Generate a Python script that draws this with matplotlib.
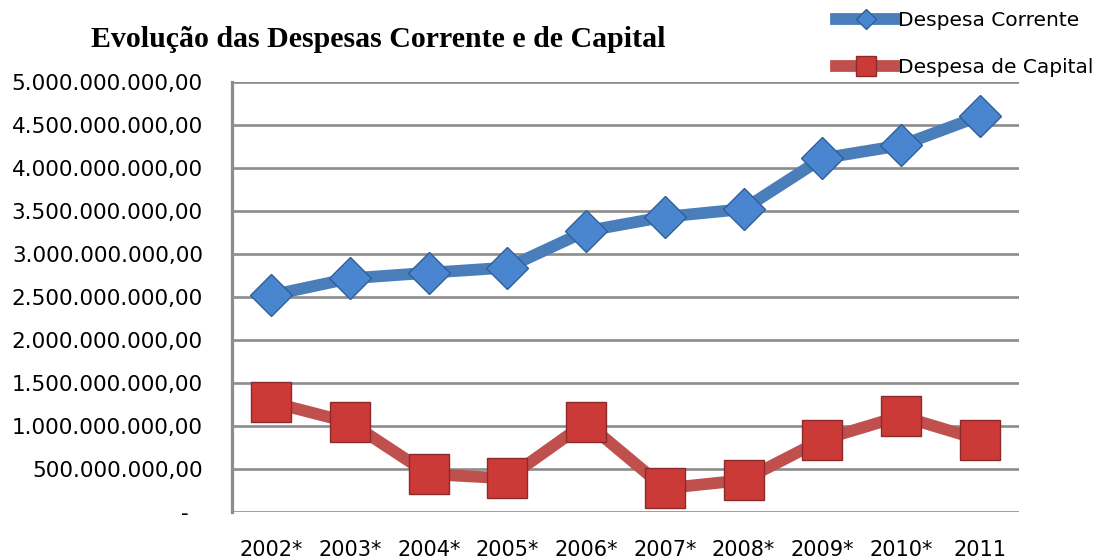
import matplotlib
matplotlib.use("Agg")
import matplotlib.pyplot as plt
from matplotlib.ticker import FuncFormatter

categories = ["2002*", "2003*", "2004*", "2005*", "2006*", "2007*", "2008*", "2009*", "2010*", "2011"]
despesa_corrente = [2.52e9, 2.715e9, 2.78e9, 2.84e9, 3.265e9, 3.43e9, 3.52e9, 4.11e9, 4.26e9, 4.60e9]
despesa_capital = [1.275e9, 1.04e9, 0.44e9, 0.39e9, 1.04e9, 0.275e9, 0.37e9, 0.84e9, 1.115e9, 0.84e9]
yticks = [0, 0.5e9, 1.0e9, 1.5e9, 2.0e9, 2.5e9, 3.0e9, 3.5e9, 4.0e9, 4.5e9, 5.0e9]

fig = plt.figure(figsize=(10.99, 5.59), dpi=100)
ax = fig.add_axes([0.2111, 0.0841, 0.7161, 0.7697])

x = list(range(len(categories)))
ax.plot(x, despesa_corrente, color="#4a7ebb", lw=8.5, marker="D", ms=21,
        markerfacecolor="#4a86d0", markeredgecolor="#2f5f9a", markeredgewidth=1.0,
        label="Despesa Corrente", zorder=3, solid_joinstyle="round")
ax.plot(x, despesa_capital, color="#c0504d", lw=8.5, marker="s", ms=28.5,
        markerfacecolor="#cc3a37", markeredgecolor="#8b2a2a", markeredgewidth=1.0,
        label="Despesa de Capital", zorder=3, solid_joinstyle="round")

ax.set_xlim(-0.5, len(categories) - 0.5)
ax.set_ylim(0, 5e9)
ax.set_yticks(yticks)


def fmt(v, pos):
    if v == 0:
        return "-  "
    s = f"{v:,.2f}"
    return s.replace(",", "X").replace(".", ",").replace("X", ".")


ax.yaxis.set_major_formatter(FuncFormatter(fmt))
ax.set_xticks(x)
ax.set_xticklabels(categories)
ax.tick_params(axis="y", length=0, pad=21, labelsize=15.5)
ax.tick_params(axis="x", length=0, pad=20, labelsize=15)
ax.grid(axis="y", color="#8c8c8c", lw=1.9)
ax.set_axisbelow(True)
for s in ["top", "right", "bottom"]:
    ax.spines[s].set_visible(False)
ax.spines["left"].set_color("#8c8c8c")
ax.spines["left"].set_linewidth(2.3)

fig.text(0.344, 0.930, "Evolução das Despesas Corrente e de Capital",
         family="Liberation Serif", weight="bold", fontsize=21.5, ha="center", va="center")

leg = ax.legend(loc="upper left", bbox_to_anchor=(0.757, 0.987), bbox_transform=fig.transFigure,
                frameon=False, fontsize=14.5, markerscale=0.5, handlelength=3.0,
                handletextpad=0.1, labelspacing=1.4, borderaxespad=0.0, borderpad=0.2)

fig.savefig("out.png", dpi=100)
